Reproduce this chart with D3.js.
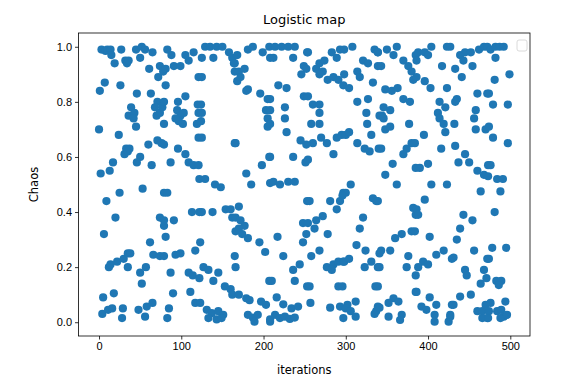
<!DOCTYPE html>
<html>
<head>
<meta charset="utf-8">
<script src="https://d3js.org/d3.v7.min.js"></script>
<style type="text/css">
    body {
        margin: 0;
        background: white;
        font-family: "DejaVu Sans", sans-serif;
    }

    .tick text {
        font-size: 11px;
        fill: #000;
    }

    .dot {
        fill: #1f77b4;
    }
</style>
</head>

<body>
<script type="text/javascript">

    // chart texts
    var title = "Logistic map";
    var xLabel = "iterations";
    var yLabel = "Chaos";

    // tick values
    var xTicks = [0, 100, 200, 300, 400, 500];
    var yTicks = [0.0, 0.2, 0.4, 0.6, 0.8, 1.0];

    // [iteration, value], left to right in strips
    var strip1 = [[0,.70],[1,.84],[2,.54],[3,.99],[4,.03],[5,.09],[6,.32],[7,.87],[8,.985],[9,.44],[10,.99],[11,.045],[12,.20],[13,.55],[14,.21],[14,.99],[15,.97],[16,.05],[17,.58],[18,.105],[19,.94],[20,.38],[22,.22],[24,.68],[25,.47],[26,.86],[27,.99],[28,.015],[29,.05],[30,.23],[31,.61],[32,.95],[33,.63],[34,.94],[35,.25],[36,.75]];
    var strip2 = [[45,.99],[52,1.0],[56,.99],[50,.96],[65,.98],[36,.95],[61,.92],[74,.93],[72,.89],[78,.91],[46,.83],[63,.83],[39,.78],[43,.76],[42,.74],[45,.71],[71,.80],[68,.78],[70,.75],[74,.76],[77,.78],[35,.62],[37,.63],[60,.645],[71,.66],[76,.65],[50,.60],[46,.58],[64,.57],[53,.485],[79,.47],[74,.38],[79,.35],[62,.29],[38,.25],[66,.245],[74,.24],[35,.20],[57,.20],[50,.18],[52,.14],[48,.045],[58,.057],[65,.07],[56,.02]];
    var strip3 = [[83,.99],[88,.97],[81,.92],[91,.93],[99,.93],[109,.95],[115,.98],[105,.97],[81,.86],[121,.89],[79,.80],[96,.80],[105,.82],[95,.77],[99,.75],[103,.76],[97,.73],[102,.72],[93,.74],[120,.79],[121,.76],[119,.72],[79,.72],[121,.67],[79,.645],[96,.63],[105,.61],[109,.58],[115,.57],[87,.58],[122,.52],[83,.47],[91,.37],[113,.40],[122,.40],[79,.37],[81,.31],[93,.245],[99,.25],[117,.26],[79,.24],[87,.18],[109,.18],[114,.17],[122,.16],[90,.105],[111,.11],[117,.07],[85,.05],[83,.015]];
    var strip4 = [[129,1.0],[135,1.0],[143,1.0],[150,1.0],[125,.96],[139,.96],[158,.98],[162,.96],[165,.94],[165,.91],[125,.89],[124,.79],[125,.76],[124,.73],[125,.67],[165,.65],[121,.57],[129,.52],[141,.50],[148,.49],[125,.40],[138,.40],[154,.41],[160,.41],[162,.38],[166,.33],[123,.29],[165,.24],[127,.20],[133,.19],[145,.18],[139,.15],[153,.13],[160,.12],[162,.10],[123,.07],[131,.045],[137,.033],[145,.04],[151,.027],[133,.015],[143,.01],[149,.015]];
    var strip5 = [[168,.97],[181,.99],[187,1.0],[199,.98],[208,.96],[207,1.0],[164,.94],[170,.91],[177,.92],[168,.875],[172,.89],[181,.845],[179,.84],[196,.83],[205,.81],[203,.77],[205,.74],[205,.71],[166,.65],[207,.60],[198,.57],[179,.54],[185,.50],[208,.505],[170,.42],[166,.38],[172,.37],[177,.35],[170,.34],[174,.32],[181,.305],[195,.29],[202,.255],[166,.20],[207,.15],[170,.10],[179,.087],[183,.08],[197,.075],[203,.063],[181,.027],[187,.017],[193,.027],[189,.002],[208,.002]];
    var strip6 = [[214,1.0],[222,1.0],[230,1.0],[238,1.0],[212,.96],[236,.96],[253,.98],[249,.93],[246,.90],[218,.86],[228,.85],[208,.81],[249,.82],[208,.77],[226,.78],[226,.74],[228,.69],[208,.72],[245,.66],[208,.60],[236,.60],[251,.58],[212,.51],[220,.50],[230,.51],[238,.51],[253,.44],[248,.36],[217,.31],[248,.29],[224,.24],[244,.21],[236,.19],[210,.15],[238,.15],[253,.13],[216,.09],[224,.065],[234,.05],[242,.057],[214,.027],[220,.015],[226,.02],[232,.012],[238,.017],[208,.01]];
    var strip7 = [[254,.98],[283,.98],[293,.99],[289,.96],[268,.94],[274,.95],[264,.92],[272,.91],[278,.88],[285,.89],[291,.88],[297,.86],[252,.92],[268,.90],[254,.82],[260,.79],[268,.79],[268,.76],[258,.72],[268,.72],[260,.65],[270,.67],[277,.65],[285,.61],[289,.67],[295,.68],[252,.645],[254,.59],[256,.44],[281,.44],[289,.41],[293,.44],[297,.47],[254,.36],[264,.37],[272,.385],[262,.34],[278,.32],[252,.32],[258,.24],[268,.26],[277,.20],[285,.21],[291,.22],[297,.22],[283,.19],[256,.13],[291,.13],[257,.07],[281,.053],[293,.057],[297,.015]];
    var strip8 = [[298,.99],[308,1.0],[335,.99],[339,.98],[321,.95],[327,.94],[314,.91],[317,.89],[339,.93],[333,.87],[298,.90],[304,.85],[314,.80],[327,.81],[325,.76],[341,.75],[326,.72],[331,.68],[300,.68],[304,.69],[314,.65],[323,.63],[329,.62],[340,.63],[306,.50],[300,.47],[296,.46],[333,.45],[337,.44],[321,.38],[317,.34],[313,.28],[324,.26],[341,.25],[298,.22],[304,.23],[331,.22],[323,.20],[339,.20],[296,.13],[336,.13],[302,.063],[312,.075],[300,.05],[306,.04],[312,.02],[337,.04],[339,.057],[335,.03]];
    var strip9 = [[350,.99],[362,1.0],[358,.97],[343,.93],[339,.98],[370,.95],[376,.93],[380,.91],[385,.97],[382,.88],[348,.845],[356,.84],[363,.85],[370,.81],[378,.80],[346,.78],[354,.77],[344,.75],[346,.74],[348,.70],[354,.71],[377,.72],[343,.63],[380,.65],[374,.63],[370,.61],[357,.575],[348,.535],[362,.50],[385,.56],[339,.44],[382,.415],[385,.39],[380,.33],[360,.305],[368,.32],[354,.26],[343,.26],[376,.24],[341,.20],[374,.20],[385,.17],[339,.13],[385,.11],[358,.087],[352,.07],[364,.075],[341,.053],[368,.027],[352,.02],[366,.008]];
    var strip10 = [[388,.98],[396,.98],[404,1.0],[423,1.0],[400,.97],[386,.95],[417,.93],[386,.89],[396,.875],[403,.85],[423,.85],[414,.80],[421,.78],[412,.76],[414,.74],[419,.72],[421,.69],[395,.68],[384,.65],[416,.63],[390,.56],[400,.575],[404,.50],[423,.50],[396,.445],[386,.41],[388,.39],[384,.33],[402,.31],[410,.245],[419,.26],[429,.23],[394,.22],[388,.20],[400,.21],[386,.11],[402,.09],[392,.057],[398,.045],[410,.063],[429,.063],[408,.027],[408,.002],[425,.002],[427,.02]];
    var strip11 = [[439,.97],[445,.98],[452,.98],[462,.99],[468,1.0],[472,1.0],[443,.95],[454,.93],[433,.92],[441,.89],[427,1.0],[460,.83],[472,.83],[435,.81],[433,.80],[458,.77],[456,.74],[458,.70],[470,.70],[432,.72],[433,.64],[445,.61],[437,.58],[450,.58],[460,.55],[468,.535],[473,.57],[464,.475],[443,.39],[454,.37],[439,.34],[435,.30],[456,.26],[431,.235],[472,.23],[445,.19],[447,.17],[468,.19],[464,.14],[439,.093],[452,.10],[431,.063],[427,.027],[460,.04],[466,.04],[470,.063],[472,.015],[466,.015]];
    var strip12 = [[476,.99],[482,1.0],[487,1.0],[492,1.0],[482,.96],[481,.88],[499,.90],[474,.83],[479,.79],[497,.79],[474,.71],[479,.67],[497,.65],[476,.57],[473,.53],[484,.52],[491,.52],[488,.475],[481,.40],[478,.27],[495,.27],[474,.23],[471,.16],[483,.15],[489,.15],[486,.135],[476,.07],[494,.075],[474,.04],[484,.04],[489,.045],[492,.02],[488,.015],[473,.015],[496,.027]];

    var points = [].concat(strip1, strip2, strip3, strip4, strip5, strip6,
        strip7, strip8, strip9, strip10, strip11, strip12);

    var width = 581, height = 390;
    var margin = { top: 33, right: 51, bottom: 54, left: 78.5 };
    var w = width - margin.left - margin.right,
        h = height - margin.top - margin.bottom;

    var svg = d3.select("body").append("svg")
        .attr("width", width)
        .attr("height", height);

    var g = svg.append("g")
        .attr("transform", "translate(" + margin.left + "," + margin.top + ")");

    // matplotlib style 5% margins
    var x = d3.scaleLinear().domain([-24.95, 523.95]).range([0, w]);
    var y = d3.scaleLinear().domain([-0.05, 1.05]).range([h, 0]);

    g.append("g")
        .selectAll("circle")
        .data(points)
        .enter().append("circle")
        .attr("class", "dot")
        .attr("cx", function (d) { return x(d[0]); })
        .attr("cy", function (d) { return y(d[1]); })
        .attr("r", 4.1);

    // axes
    var xAxis = g.append("g")
        .attr("transform", "translate(0," + h + ")")
        .call(d3.axisBottom(x).tickValues(xTicks).tickSize(3.5).tickPadding(3).tickSizeOuter(0));

    var yAxis = g.append("g")
        .call(d3.axisLeft(y).tickValues(yTicks).tickFormat(d3.format(".1f")).tickSize(3.5).tickPadding(3).tickSizeOuter(0));

    [xAxis, yAxis].forEach(function (a) {
        a.select(".domain").remove();
        a.selectAll(".tick line").attr("stroke", "#000").attr("stroke-width", 0.8);
    });

    // frame
    g.append("rect")
        .attr("width", w)
        .attr("height", h)
        .attr("fill", "none")
        .attr("stroke", "#000")
        .attr("stroke-width", 0.8);

    // empty legend box
    g.append("rect")
        .attr("x", w - 13)
        .attr("y", 7)
        .attr("width", 10)
        .attr("height", 11)
        .attr("rx", 2)
        .attr("fill", "white")
        .attr("fill-opacity", 0.8)
        .attr("stroke", "#d0d0d0")
        .attr("stroke-width", 0.8);

    // title and labels
    svg.append("text")
        .attr("x", margin.left + w / 2)
        .attr("y", 24)
        .attr("text-anchor", "middle")
        .style("font-size", "13px")
        .text(title);

    svg.append("text")
        .attr("x", margin.left + w / 2)
        .attr("y", 374)
        .attr("text-anchor", "middle")
        .style("font-size", "11.5px")
        .text(xLabel);

    svg.append("text")
        .attr("transform", "translate(38," + (margin.top + h / 2) + ") rotate(-90)")
        .attr("text-anchor", "middle")
        .style("font-size", "11.5px")
        .text(yLabel);

</script>
</body>
</html>
